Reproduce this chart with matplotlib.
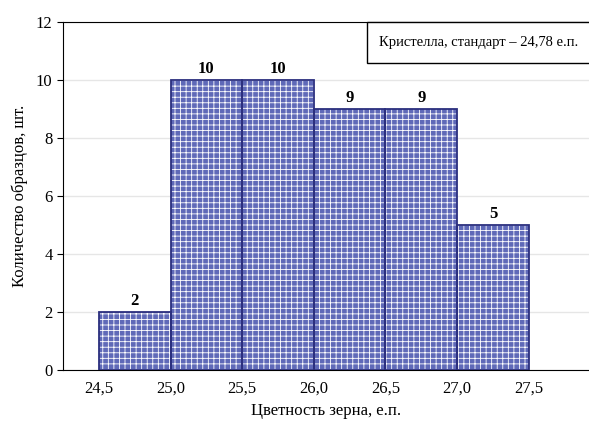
import matplotlib
matplotlib.use("Agg")
import matplotlib.pyplot as plt
from matplotlib.patches import Rectangle

plt.rcParams['font.family'] = 'Liberation Serif'
plt.rcParams['hatch.linewidth'] = 0.6

# data
bin_left = [24.5, 25.0, 25.5, 26.0, 26.5, 27.0]
counts = [2, 10, 10, 9, 9, 5]
bin_width = 0.5
x_ticks = [24.5, 25.0, 25.5, 26.0, 26.5, 27.0, 27.5]
x_tick_labels = ['24,5', '25,0', '25,5', '26,0', '26,5', '27,0', '27,5']
y_ticks = [0, 2, 4, 6, 8, 10, 12]
legend_text = 'Кристелла, стандарт – 24,78 е.п.'

fig = plt.figure(figsize=(5.89, 4.25), dpi=100)
ax = fig.add_axes([0.107, 0.1294, 0.893, 0.8188])

# fill with white grid pattern, then dark outline on top
ax.bar(bin_left, counts, width=bin_width, align='edge', color='#5f69b8',
       edgecolor='white', hatch='+++', linewidth=0, zorder=2)
ax.bar(bin_left, counts, width=bin_width, align='edge', color='none',
       edgecolor='#2b2f7e', linewidth=1.3, zorder=3)

for x, c in zip(bin_left, counts):
    ax.text(x + bin_width / 2, c + 0.12, str(c), ha='center', va='bottom',
            fontsize=12, fontweight='bold')

ax.set_xlim(24.25, 27.92)
ax.set_ylim(0, 12)
ax.set_xticks(x_ticks)
ax.set_xticklabels(x_tick_labels)
ax.set_yticks(y_ticks)
ax.tick_params(axis='both', labelsize=12)
ax.tick_params(axis='x', length=0, pad=8)
ax.tick_params(axis='y', length=4, direction='out')

ax.grid(axis='y', color='#e6e6e6', linewidth=1, zorder=0)
ax.set_axisbelow(True)
ax.spines['right'].set_visible(False)

ax.set_xlabel('Цветность зерна, е.п.', fontsize=12, labelpad=4)
ax.set_ylabel('Количество образцов, шт.', fontsize=12, labelpad=6)

# legend-like box in upper right
box = Rectangle((0.578, 0.882), 0.43, 0.118, transform=ax.transAxes,
                facecolor='white', edgecolor='black', linewidth=1.0,
                zorder=4, clip_on=False)
ax.add_patch(box)
ax.text(0.79, 0.941, legend_text, transform=ax.transAxes, ha='center',
        va='center', fontsize=10.5, zorder=5)

fig.savefig('out.png', dpi=100)
